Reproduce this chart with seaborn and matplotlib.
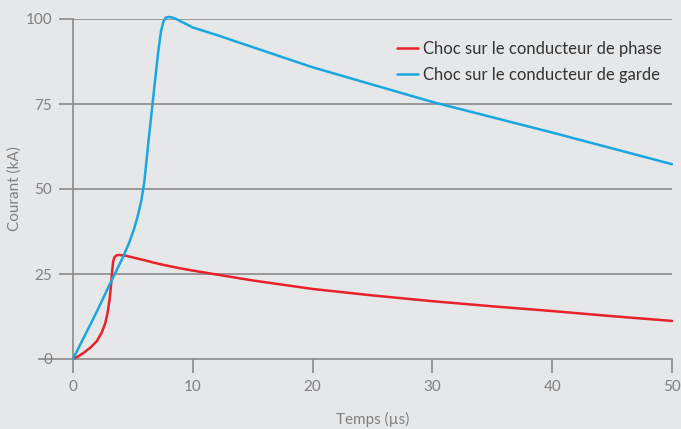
import matplotlib
matplotlib.use("Agg")
import matplotlib.pyplot as plt
import seaborn as sns
import pandas as pd

# Courant de foudre (kA) en fonction du temps (µs)
t_phase = [0, 0.5, 1.0, 1.5, 2.0, 2.4, 2.7, 2.9, 3.05, 3.15, 3.22, 3.28, 3.35, 3.45, 3.6, 3.8, 4.1, 4.5, 5.2, 5.9, 7.25, 8.9, 10, 15, 20, 25, 30, 35, 40, 45, 50]
i_phase = [0, 0.9, 2.1, 3.5, 5.3, 7.8, 10.6, 13.8, 17.5, 20.8, 23.6, 26.3, 28.6, 29.9, 30.4, 30.6, 30.5, 30.3, 29.7, 29.1, 27.9, 26.7, 26.0, 23.1, 20.6, 18.7, 17.0, 15.5, 14.1, 12.6, 11.2]

t_garde = [0, 1, 2, 3, 3.6, 4.2, 4.7, 5.1, 5.4, 5.7, 5.95, 6.3, 6.7, 7.1, 7.35, 7.55, 7.75, 7.95, 8.2, 8.5, 10, 12, 13.5, 20, 30, 40, 50]
i_garde = [0, 7, 14, 21.5, 25.8, 30.2, 34.3, 38.3, 42.0, 46.5, 52, 64, 77, 90, 96.5, 99.3, 100.4, 100.6, 100.5, 100.2, 97.5, 95.3, 93.5, 85.8, 75.6, 66.6, 57.3]

label_phase = "Choc sur le conducteur de phase"
label_garde = "Choc sur le conducteur de garde"
x_ticks = [0, 10, 20, 30, 40, 50]
y_ticks = [0, 25, 50, 75, 100]

df = pd.concat([
    pd.DataFrame({"Temps": t_phase, "Courant": i_phase, "Série": label_phase}),
    pd.DataFrame({"Temps": t_garde, "Courant": i_garde, "Série": label_garde}),
], ignore_index=True)

bg = "#e6e7e9"
grid = "#8a8a8a"
text_col = "#808080"

sns.set_theme(style="white")
plt.rcParams["font.family"] = ["Lato", "DejaVu Sans"]

fig = plt.figure(figsize=(6.81, 4.29), dpi=100, facecolor=bg)
ax = fig.add_axes([73 / 681, 70 / 429, 599 / 681, 340 / 429])
ax.set_facecolor(bg)

sns.lineplot(data=df, x="Temps", y="Courant", hue="Série", sort=False,
             palette={label_phase: "#e8212b", label_garde: "#1aa7df"},
             linewidth=1.8, ax=ax)
for line in ax.get_lines():
    line.set_clip_on(False)
    line.set_solid_joinstyle("round")

ax.set_xlim(0, 50)
ax.set_ylim(0, 100)
ax.set_xticks(x_ticks)
ax.set_yticks(y_ticks)
ax.set_xticklabels([str(v) for v in x_ticks])
ax.set_yticklabels([str(v) for v in y_ticks])

for y in y_ticks[1:]:
    ax.axhline(y, color=grid, lw=1.2, zorder=0)

for s in ["top", "right"]:
    ax.spines[s].set_visible(False)
for s in ["left", "bottom"]:
    ax.spines[s].set_color(grid)
    ax.spines[s].set_linewidth(1.2)
    ax.spines[s].set_zorder(0.5)

ax.tick_params(axis="both", direction="out", length=10, width=1.2, color=grid,
               labelcolor=text_col, labelsize=11, bottom=True, left=True)
ax.tick_params(axis="x", pad=5)
ax.tick_params(axis="y", pad=5)
# trait du zéro prolongé vers la gauche
ax.yaxis.get_major_ticks()[0].tick1line.set_markersize(25)

ax.set_xlabel("Temps (µs)", color=text_col, fontsize=11, labelpad=13)
ax.set_ylabel("Courant (kA)", color=text_col, fontsize=11)
ax.yaxis.set_label_coords(-0.085, 0.5)

leg = ax.legend(loc="upper right", bbox_to_anchor=(1.0, 0.965), frameon=False,
                fontsize=12, handlelength=1.3, handletextpad=0.3, labelspacing=0.6,
                borderaxespad=0.2)
for txt in leg.get_texts():
    txt.set_color("#333333")

fig.savefig("out.png", dpi=100, facecolor=bg)
